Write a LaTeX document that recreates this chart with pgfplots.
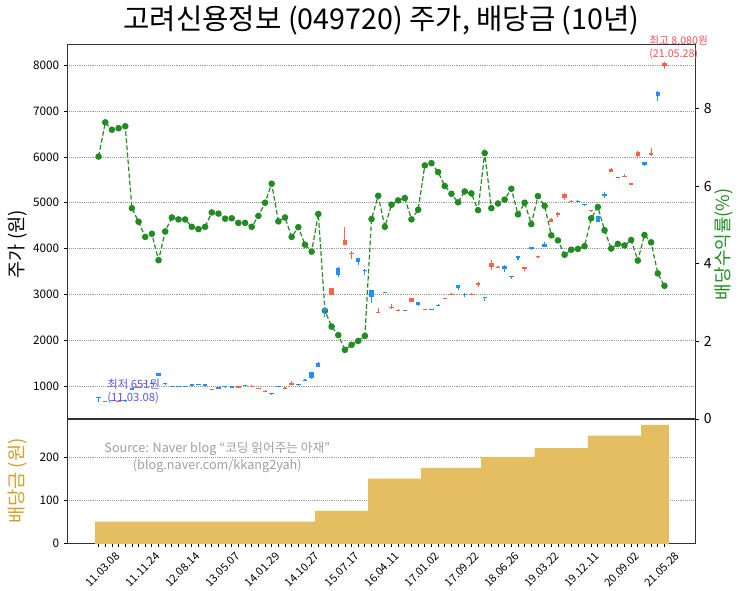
\documentclass[border=0pt]{standalone}
\usepackage{pgfplots}
\pgfplotsset{compat=1.18}
\usepackage{pgfplotstable}
\usepackage{fontspec}
\setmainfont{Noto Sans CJK KR}
\definecolor{upc}{RGB}{255,99,71}
\definecolor{dnc}{RGB}{30,144,255}
\definecolor{grn}{RGB}{34,139,34}
\definecolor{barc}{RGB}{229,190,98}
\definecolor{goldlab}{RGB}{212,160,40}
\definecolor{mintxt}{RGB}{85,85,245}
\definecolor{maxtxt}{RGB}{250,80,80}

% red (up) candles: x, body bottom (open), body top (close), low, high
\pgfplotstableread{
x lo hi l h
1 640 665 640 670
3 655 680 650 685
6 960 984 955 990
7 1040 1066 1035 1075
17 915 940 905 945
21 965 990 960 995
23 985 1010 980 1015
24 930 956 925 960
25 875 898 860 905
28 940 965 935 970
29 1030 1066 1025 1110
35 2990 3135 2980 3150
37 4080 4190 4070 4480
38 3880 3910 3770 3955
42 2590 2625 2585 2700
44 2700 2725 2690 2780
45 2645 2670 2640 2680
47 2835 2920 2830 2925
49 2655 2680 2650 2690
52 2892 2917 2890 2925
53 2992 3017 2990 3025
56 2988 3012 2985 3020
57 3200 3253 3170 3260
59 3605 3690 3530 3750
60 3580 3604 3575 3610
64 3560 3591 3500 3600
66 3808 3833 3805 3840
68 4590 4651 4585 4660
69 4730 4783 4700 4795
70 5100 5201 5060 5210
71 5020 5046 5015 5055
74 4810 4836 4805 4845
77 5670 5730 5665 5760
79 5570 5595 5555 5630
80 5398 5423 5395 5440
81 6010 6115 5970 6125
83 6040 6080 6010 6190
85 7990 8040 7930 8080
}\uptab

% blue (down) candles: x, body bottom (close), body top (open), low, high
\pgfplotstableread{
x lo hi l h
0 740 765 651 770
2 671 695 665 700
4 663 688 658 690
5 921 946 915 950
8 1048 1072 1040 1078
9 1222 1275 1215 1280
10 1035 1060 1030 1065
11 975 1000 970 1005
12 973 998 968 1002
13 973 998 968 1000
14 1010 1035 1005 1040
15 1022 1046 1018 1050
16 1010 1035 1005 1040
18 945 970 940 975
19 969 994 965 998
20 967 992 962 995
22 990 1015 985 1020
26 825 850 800 855
27 982 1007 978 1010
30 1012 1037 1008 1040
31 1114 1140 1100 1150
32 1180 1300 1150 1310
33 1425 1510 1420 1515
34 2630 2700 2510 2710
36 3430 3585 3390 3595
39 3715 3790 3640 3795
40 3505 3540 3420 3545
41 2950 3096 2806 3100
43 3030 3055 3020 3060
46 2636 2661 2630 2665
48 2775 2830 2740 2835
50 2656 2680 2650 2685
51 2752 2777 2745 2780
54 3136 3200 3100 3205
55 2986 3011 2950 3030
58 2920 2945 2860 2950
61 3545 3630 3495 3635
62 3373 3398 3330 3400
63 3795 3840 3750 3845
65 3984 4040 3960 4045
67 4040 4100 4030 4140
72 5023 5048 4990 5060
73 4944 4968 4940 4972
75 4579 4712 4575 4720
76 5144 5200 5110 5240
78 5543 5568 5538 5572
82 5830 5895 5800 5900
84 7320 7425 7230 7430
}\dntab

% dividend yield (%) and dividend (won)
\pgfplotstableread{
x y d
0 6.76 50
1 7.64 50
2 7.45 50
3 7.49 50
4 7.54 50
5 5.43 50
6 5.08 50
7 4.69 50
8 4.77 50
9 4.09 50
10 4.83 50
11 5.19 50
12 5.14 50
13 5.14 50
14 4.95 50
15 4.89 50
16 4.95 50
17 5.32 50
18 5.29 50
19 5.16 50
20 5.17 50
21 5.05 50
22 5.05 50
23 4.95 50
24 5.23 50
25 5.57 50
26 6.06 50
27 5.09 50
28 5.19 50
29 4.69 50
30 4.94 50
31 4.49 50
32 4.31 50
33 5.28 75
34 2.79 75
35 2.38 75
36 2.16 75
37 1.78 75
38 1.91 75
39 2.01 75
40 2.14 75
41 5.15 150
42 5.75 150
43 4.95 150
44 5.52 150
45 5.63 150
46 5.69 150
47 5.14 150
48 5.39 150
49 6.53 175
50 6.59 175
51 6.36 175
52 6.00 175
53 5.80 175
54 5.58 175
55 5.86 175
56 5.81 175
57 5.38 175
58 6.85 200
59 5.43 200
60 5.55 200
61 5.65 200
62 5.93 200
63 5.27 200
64 5.57 200
65 5.02 200
66 5.74 220
67 5.49 220
68 4.73 220
69 4.60 220
70 4.23 220
71 4.36 220
72 4.38 220
73 4.45 220
74 5.17 250
75 5.46 250
76 4.86 250
77 4.39 250
78 4.51 250
79 4.47 250
80 4.61 250
81 4.08 250
82 4.74 275
83 4.55 275
84 3.75 275
85 3.43 275
}\yieldtab

\begin{document}
\begin{tikzpicture}
\useasboundingbox (0pt,0pt) rectangle (557.25pt,443.25pt);
\pgfplotsset{
  base/.style={scale only axis, width=471.3pt, xmin=-4.7, xmax=89.7,
    anchor=south west, tick align=outside,
    major tick length=2.6pt, minor tick length=2.6pt,
    tick style={black, line width=0.6pt},
    axis line style={line width=0.8pt, black!80},
    ticklabel style={font=\fontsize{8.8}{10}\selectfont},
    /pgf/number format/assume math mode=true,
    /pgf/number format/set thousands separator={}},
}
% price axis: frame and grid
\begin{axis}[base, at={(50.5pt,129pt)}, height=280.7pt, ymin=280, ymax=8450,
  xtick=\empty, ytick={1000,2000,...,8000}, ytick pos=left,
  ymajorgrids, grid style={densely dotted, gray!80, line width=0.5pt}]
\end{axis}
% dividend yield axis (right)
\begin{axis}[base, at={(50.5pt,129pt)}, height=280.7pt, ymin=0, ymax=9.64,
  axis x line=none, axis y line*=right, ytick={0,2,4,6,8},
  ticklabel style={font=\fontsize{10.5}{12}\selectfont}]
\addplot[grn, dash pattern=on 3.5pt off 1.8pt, line width=0.9pt, mark=*, mark size=2pt,
  mark options={solid, fill=grn, draw=grn}] table[x=x, y=y] {\yieldtab};
\end{axis}
% candles
\begin{axis}[base, at={(50.5pt,129pt)}, height=280.7pt, ymin=280, ymax=8450, axis lines=none]
\addplot[draw=none, mark=none, forget plot, error bars/.cd, y dir=plus, y explicit,
  error mark=none, error bar style={draw=upc, solid, line width=0.8pt}]
  table[x=x, y=l, y error expr=\thisrow{h}-\thisrow{l}] {\uptab};
\addplot[draw=none, mark=none, forget plot, error bars/.cd, y dir=plus, y explicit,
  error mark=none, error bar style={draw=upc, solid, line width=3.3pt}]
  table[x=x, y=lo, y error expr=\thisrow{hi}-\thisrow{lo}] {\uptab};
\addplot[draw=none, mark=none, forget plot, error bars/.cd, y dir=plus, y explicit,
  error mark=none, error bar style={draw=dnc, solid, line width=0.8pt}]
  table[x=x, y=l, y error expr=\thisrow{h}-\thisrow{l}] {\dntab};
\addplot[draw=none, mark=none, forget plot, error bars/.cd, y dir=plus, y explicit,
  error mark=none, error bar style={draw=dnc, solid, line width=3.3pt}]
  table[x=x, y=lo, y error expr=\thisrow{hi}-\thisrow{lo}] {\dntab};
\end{axis}
% dividend axis
\begin{axis}[base, at={(50.5pt,35.8pt)}, height=93.2pt, ymin=0, ymax=288.75,
  ytick={0,100,200}, ytick pos=left,
  xtick={0,6,...,84}, minor xtick={0,...,85}, xtick pos=bottom,
  xticklabels={11.03.08,11.11.24,12.08.14,13.05.07,14.01.29,14.10.27,15.07.17,16.04.11,17.01.02,17.09.22,18.06.26,19.03.22,19.12.11,20.09.02,21.05.28},
  xticklabel style={xshift=3pt, yshift=-17pt, rotate=45, anchor=center, font=\fontsize{8.3}{10}\selectfont},
  ymajorgrids, grid style={densely dotted, gray!80, line width=0.5pt}]
\addplot[ybar, bar width=1, fill=barc, draw=barc, line width=0.2pt] table[x=x, y=d] {\yieldtab};
\end{axis}
% texts
\node[font=\fontsize{21.5}{24}\selectfont] at (286.1pt,428pt) {고려신용정보 (049720) 주가, 배당금 (10년)};
\node[rotate=90, font=\fontsize{14}{16}\selectfont] at (13.5pt,260pt) {주가 (원)};
\node[rotate=90, font=\fontsize{13.5}{15}\selectfont, text=grn] at (542.5pt,260pt) {배당수익률(\%)};
\node[rotate=90, font=\fontsize{14}{16}\selectfont, text=goldlab] at (13.5pt,82.5pt) {배당금 (원)};
\node[align=center, text=gray!75, font=\fontsize{9.5}{12.5}\selectfont] at (163pt,100pt) {Source: Naver blog “코딩 읽어주는 아재”\\(blog.naver.com/kkang2yah)};
\node[anchor=west, align=left, text=mintxt, font=\fontsize{8.5}{10}\selectfont] at (77pt,149.5pt) {최저 651원\\(11.03.08)};
\node[anchor=west, align=left, text=maxtxt, font=\fontsize{8}{10}\selectfont] at (483.5pt,407.5pt) {최고 8,080원\\(21.05.28)};
\end{tikzpicture}
\end{document}
